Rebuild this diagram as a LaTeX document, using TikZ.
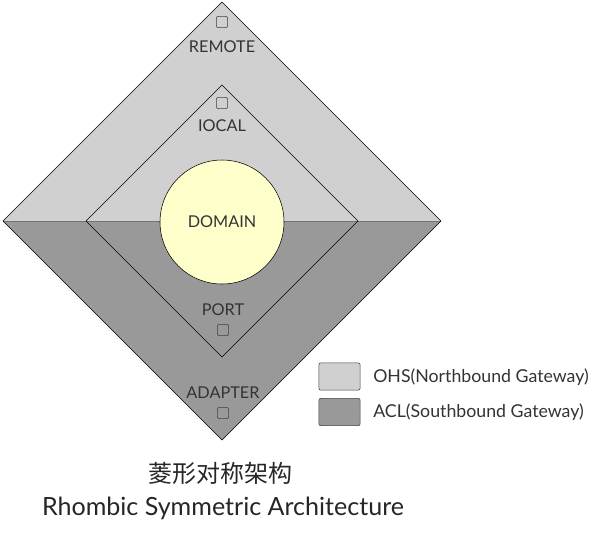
\documentclass[tikz,border=0pt]{standalone}
\usepackage{fontspec}
\setmainfont{Lato}
\newfontfamily\cjk{Noto Sans CJK SC}
\definecolor{ohs}{HTML}{D0D0D0}
\definecolor{acl}{HTML}{999999}
\definecolor{dom}{HTML}{FFFFCC}
\def\lbl{\fontsize{12.2}{14}\selectfont}
\tikzset{
  port/.style={draw=black!75,rounded corners=1.5pt,minimum size=8.5pt,inner sep=0pt},
  layer/.style={font=\lbl,text=black!80,inner sep=0pt},
  keybox/.style={draw=black!75,rounded corners=1.5pt,minimum width=31pt,minimum height=20.5pt,inner sep=0pt},
  keytext/.style={font=\fontsize{13.3}{15}\selectfont,text=black!80,anchor=west,inner sep=0pt}
}

\begin{document}
\begin{tikzpicture}[x=0.75pt,y=-0.75pt]
  \useasboundingbox (0,0) rectangle (600,533);
  % outer and inner rhombus
  \coordinate (top)  at (222,2);
  \coordinate (lft)  at (3,221);
  \coordinate (rgt)  at (441,221);
  \coordinate (bot)  at (222,440);
  \fill[ohs] (lft) -- (top) -- (rgt) -- cycle;
  \fill[acl] (lft) -- (bot) -- (rgt) -- cycle;
  \draw[black!55] (lft) -- (rgt);
  \draw (top) -- (rgt) -- (bot) -- (lft) -- cycle;
  \draw (222,85) -- (358,221) -- (222,357) -- (86,221) -- cycle;
  \node[circle,draw,fill=dom,minimum size=93pt,font=\lbl,text=black!80] (domain) at (222,222) {DOMAIN};
  % layers
  \node[port]  (remote) at (222,22) {};
  \node[layer] (remotet) at (222,47) {REMOTE};
  \node[port]  (local) at (222,103) {};
  \node[layer] (localt) at (222,126) {IOCAL};
  \node[layer] (portt) at (223,310) {PORT};
  \node[port]  (port) at (223,330) {};
  \node[layer] (adaptert) at (223,393) {ADAPTER};
  \node[port]  (adapter) at (223,413) {};
  % legend
  \node[keybox,fill=ohs] (ohsbox) at (339.5,376.5) {};
  \node[keybox,fill=acl] (aclbox) at (339.5,412) {};
  \node[keytext] (ohst) at (373,377) {OHS(Northbound Gateway)};
  \node[keytext] (aclt) at (373,412) {ACL(Southbound Gateway)};
  % title
  \node[font=\cjk\fontsize{18}{20}\selectfont,text=black!85] (titlezh) at (220,473) {菱形对称架构};
  \node[font=\fontsize{18.8}{22}\selectfont,text=black!85] (titleen) at (223,508) {Rhombic Symmetric Architecture};
\end{tikzpicture}
\end{document}
